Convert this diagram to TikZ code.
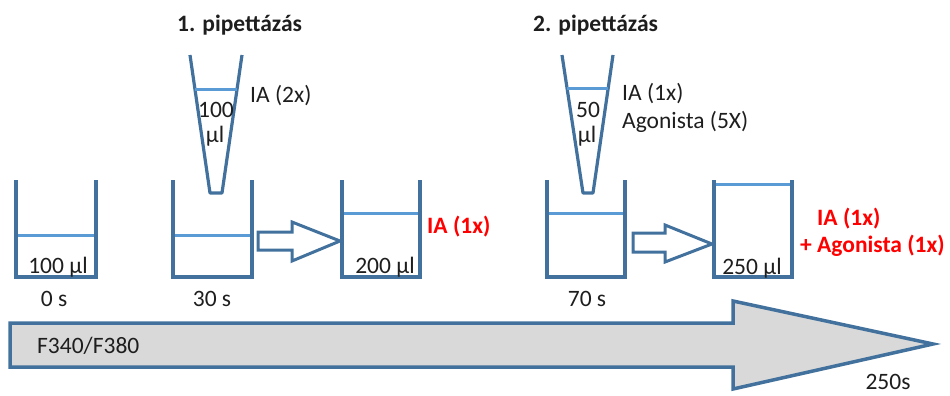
\documentclass[tikz,border=0pt]{standalone}
\usepackage{fontspec}
\setmainfont{Carlito}
\definecolor{wall}{RGB}{65,113,156}
\definecolor{liquid}{RGB}{91,155,213}
\definecolor{timeline}{RGB}{217,217,217}
\definecolor{hot}{RGB}{255,0,0}
\definecolor{ink}{RGB}{30,30,30}
% beaker: left, right, top, bottom, liquid level
\newcommand\drawbeaker[5]{%
  \draw[beakerwall] (#1,#3) -- (#1,#4) -- (#2,#4) -- (#2,#3);
  \draw[level] (#1+2,#5) -- (#2-2,#5);}
% pipette tip: top-left x, top-right x, bottom-left x, bottom-right x, liquid level
\newcommand\drawtip[5]{%
  \draw[tipwall] (#1,55) -- (#3,193) -- (#4,193) -- (#2,55);
  \draw[level] (#1+5,#5) -- (#2-5,#5);}
\begin{document}
\begin{tikzpicture}[x=1pt,y=-1pt,
  beakerwall/.style={draw=wall,line width=3.8pt,line join=miter},
  tipwall/.style={draw=wall,line width=3.2pt,line join=round},
  level/.style={draw=liquid,line width=3pt},
  hollowarrow/.style={draw=wall,fill=white,line width=3pt,line join=miter},
  timearrow/.style={draw=wall,fill=timeline,line width=3.5pt,line join=miter},
  lbl/.style={inner sep=0pt,text=ink,font=\fontsize{23.5}{27}\selectfont},
  title/.style={lbl,font=\fontsize{23.5}{27}\selectfont\bfseries},
  note/.style={lbl,text=hot,font=\fontsize{23.5}{27}\selectfont\bfseries}]
\useasboundingbox (0,0) rectangle (950,396);

% time line
\draw[timearrow] (10,323) -- (733,323) -- (733,301) -- (933,344) -- (733,389)
  -- (733,367) -- (10,367) -- cycle;
\node[lbl,anchor=base west] (ratio) at (37,353) {F340/F380};
\node[lbl,anchor=base] (tend) at (888,389) {250s};

% beakers
\drawbeaker{16}{96}{180}{277}{235}
\drawbeaker{173}{252}{180}{277}{235}
\drawbeaker{342}{420}{180}{277}{213}
\drawbeaker{547}{625}{180}{277}{213}
\drawbeaker{714}{792}{180}{277}{184}

% volumes
\node[lbl,anchor=base] (v1) at (58,273) {100 µl};
\node[lbl,anchor=base] (v3) at (385,273) {200 µl};
\node[lbl,anchor=base] (v5) at (752,274) {250 µl};

% times
\node[lbl,anchor=base] (t0) at (54,306) {0 s};
\node[lbl,anchor=base] (t30) at (212,306) {30 s};
\node[lbl,anchor=base] (t70) at (587,306) {70 s};

% transfer arrows
\draw[hollowarrow] (258,232) -- (292,232) -- (292,222) -- (340,241) -- (292,261)
  -- (292,250) -- (258,250) -- cycle;
\draw[hollowarrow] (633,233) -- (665,233) -- (665,225) -- (712,244) -- (665,262)
  -- (665,252) -- (633,252) -- cycle;

% first addition
\node[title,anchor=base west] (p1) at (177,32) {1. pipettázás};
\drawtip{190}{242}{210}{222}{89}
\node[lbl,anchor=base] (a1) at (216,117) {100};
\node[lbl,anchor=base] (b1) at (215,142) {µl};
\node[lbl,anchor=base west] (c1) at (250,102) {IA (2x)};
\node[note,anchor=base west] (r1) at (427,233) {IA (1x)};

% second addition
\node[title,anchor=base west] (p2) at (533,32) {2. pipettázás};
\drawtip{562}{613}{583}{593}{88}
\node[lbl,anchor=base] (a2) at (588,117) {50};
\node[lbl,anchor=base] (b2) at (587,142) {µl};
\node[lbl,anchor=base west] (c2) at (622,100) {IA (1x)};
\node[lbl,anchor=base west] (d2) at (622,128) {Agonista (5X)};
\node[note,anchor=base west] (r2) at (817,225) {IA (1x)};
\node[note,anchor=base west] (s2) at (800,252) {+ Agonista (1x)};
\end{tikzpicture}
\end{document}
